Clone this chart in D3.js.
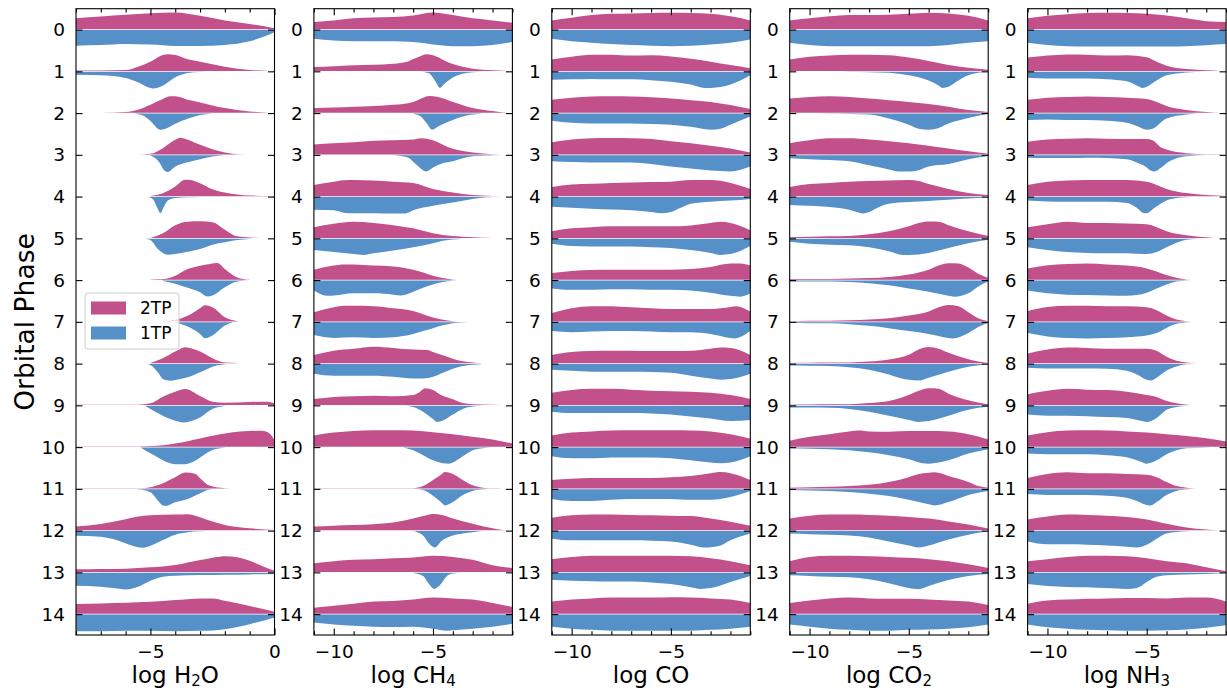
<!DOCTYPE html>
<html>
<head>
<meta charset="utf-8">
<script src="https://cdn.jsdelivr.net/npm/d3@7"></script>
<style>
  body { margin: 0; background: #fff; }
  text { font-family: "DejaVu Sans", sans-serif; fill: #000; }
</style>
</head>
<body>
<svg id="chart" width="1227" height="690"></svg>
<script>
// orbital phase bins (rows) and the x range / ticks of each retrieved species
const phases = [0, 1, 2, 3, 4, 5, 6, 7, 8, 9, 10, 11, 12, 13, 14];
const species = ["H2O", "CH4", "CO", "CO2", "NH3"];
const speciesLabels = [["log H", "2", "O"], ["log CH", "4", ""], ["log CO", "", ""], ["log CO", "2", ""], ["log NH", "3", ""]];
const xDomains = [[-8, 0], [-11, -1], [-11, -1], [-11, -1], [-11, -1]];
const majorTicks = [[-5, 0], [-10, -5], [-10, -5], [-10, -5], [-10, -5]];
const legendNames = ["2TP", "1TP"];

// half-violin outlines: [log abundance, width relative to the half's peak]
const h2o2TP = [
  [[-8,.66],[-7,.76],[-6,.86],[-5,.96],[-4,1],[-3,.8],[-2,.52],[-1,.32],[0,.06]],
  [[-8,.03],[-7,.03],[-6,.06],[-5.5,.26],[-5,.56],[-4.5,.96],[-4.3,1],[-4,.96],[-3.5,.7],[-3,.56],[-2,.26],[-1,.06],[-0.3,.01]],
  [[-7,0],[-6,.04],[-5.5,.18],[-5,.48],[-4.5,.82],[-4.2,.98],[-4,.98],[-3.5,.78],[-3,.62],[-2,.28],[-1,.08],[-0.3,.01]],
  [[-5.5,0],[-5,.04],[-4.5,.38],[-4,.88],[-3.8,1],[-3.5,.88],[-3,.58],[-2.5,.32],[-2,.12],[-1.5,.02],[-0.3,0]],
  [[-5,.02],[-4.5,.18],[-4,.58],[-3.6,.98],[-3.5,.98],[-3,.78],[-2.5,.42],[-2,.22],[-1.5,.1],[-1,.04],[0,.01]],
  [[-5,0],[-4.5,.29],[-4,.77],[-3.5,.98],[-3,1],[-2.5,.95],[-2,.5],[-1.5,.1],[-1,.03],[-0.3,0]],
  [[-5,.01],[-4.5,.04],[-4,.24],[-3.5,.64],[-3,.84],[-2.6,.94],[-2.3,1],[-2,.64],[-1.5,.14],[-1,.01]],
  [[-4.5,.04],[-4,.1],[-3.5,.34],[-3,.8],[-2.8,.98],[-2.5,.86],[-2,.26],[-1.5,.02]],
  [[-5,.02],[-4.5,.3],[-4,.7],[-3.6,.96],[-3,.7],[-2.5,.3],[-2,.04],[-1.5,.01]],
  [[-8,.01],[-5.5,.02],[-5,.1],[-4.5,.5],[-4,.8],[-3.6,.96],[-3,.54],[-2.5,.2],[-2,.14],[-1,.18],[-0.3,.2],[0,.1]],
  [[-8,.01],[-6,.01],[-5,.04],[-4,.2],[-3,.5],[-2.5,.66],[-2,.8],[-1,.94],[-0.5,.96],[-0.2,.8],[0,.4]],
  [[-8,.01],[-5.5,.01],[-5,.08],[-4.5,.32],[-4,.68],[-3.6,.96],[-3.2,.88],[-3,.62],[-2.6,.16],[-2,.02],[-1.5,0]],
  [[-8,.22],[-7,.38],[-6,.66],[-5.5,.82],[-5,.9],[-4,.94],[-3.5,.96],[-3,.78],[-2.5,.52],[-2,.32],[-1,.12],[0,.02]],
  [[-8,.16],[-7,.18],[-6,.2],[-5,.28],[-4,.42],[-3,.72],[-2.2,.92],[-2,.94],[-1.5,.88],[-1,.68],[-0.5,.36],[0,.08]],
  [[-8,.58],[-7,.62],[-6,.66],[-5,.72],[-4,.82],[-3,.92],[-2.5,.92],[-2,.78],[-1,.46],[0,.12]]
];
const h2o1TP = [
  [[-8,.94],[-7,.9],[-6,.84],[-5,.88],[-4,.96],[-3,.96],[-2,.9],[-1,.68],[0,.14]],
  [[-8,.18],[-7,.22],[-6,.38],[-5.5,.64],[-5,.98],[-4.9,1],[-4.5,.84],[-4,.34],[-3.5,.08],[-3,.02],[-2.8,0]],
  [[-5.7,0],[-5.3,.12],[-5,.46],[-4.6,.98],[-4.4,.92],[-4,.62],[-3.5,.32],[-3,.1],[-2.5,0]],
  [[-5,.02],[-4.7,.32],[-4.4,.96],[-4.3,1],[-4,.68],[-3.5,.42],[-3,.24],[-2.5,.08],[-2,0]],
  [[-5.1,0],[-4.9,.14],[-4.7,.72],[-4.6,.98],[-4.5,.72],[-4.3,.22],[-4,.06],[-3.5,.02],[-3,0]],
  [[-5.2,0],[-5,.08],[-4.7,.62],[-4.5,.86],[-4.3,.96],[-4,.92],[-3.5,.78],[-3,.62],[-2.5,.36],[-2,.22],[-1.5,.08],[-1,.02],[-0.5,0]],
  [[-4.5,.04],[-4,.2],[-3.5,.44],[-3,.7],[-2.7,.96],[-2.5,.9],[-2,.4],[-1.5,.06],[-1,0]],
  [[-4,.02],[-3.5,.26],[-3,.7],[-2.8,.96],[-2.5,.8],[-2,.2],[-1.7,.02]],
  [[-5.1,0],[-5,.06],[-4.7,.5],[-4.5,.9],[-4.2,1],[-4,.96],[-3.5,.8],[-3,.5],[-2.5,.16],[-2,.02]],
  [[-5.2,.02],[-5,.2],[-4.5,.6],[-4,.9],[-3.7,1],[-3,.7],[-2.5,.2],[-2,.02]],
  [[-5.4,0],[-5,.35],[-4.7,.6],[-4.3,.9],[-4,1],[-3.6,1],[-3.2,.8],[-3,.6],[-2.5,.15],[-2,.02]],
  [[-5.5,.02],[-5,.18],[-4.7,.68],[-4.5,.98],[-4.4,1],[-4,.78],[-3.5,.58],[-3,.24],[-2.7,.04],[-2.5,0]],
  [[-8,.28],[-7,.34],[-6.5,.48],[-6,.74],[-5.5,.98],[-5.3,1],[-5,.88],[-4.5,.54],[-4,.22],[-3.5,.08],[-3,.02],[-2.5,0]],
  [[-8,.78],[-7,.84],[-6.5,.92],[-6,1],[-5.5,.84],[-5,.48],[-4.5,.24],[-4,.18],[-3,.14],[-2,.12],[-1,.1],[0,.08]],
  [[-8,1],[-7,1],[-6,.98],[-5,.98],[-4,1],[-3,.98],[-2,.88],[-1,.58],[0,.18]]
];

const ch42TP = [
  [[-11,.44],[-10,.53],[-9,.65],[-8,.7],[-7,.73],[-6,.82],[-5,1],[-4,.85],[-3,.65],[-2,.53],[-1,.39]],
  [[-11,.24],[-10,.29],[-9,.34],[-8,.38],[-7,.44],[-6.3,.56],[-5.8,.8],[-5.3,1],[-4.8,.85],[-4.3,.55],[-4,.42],[-3.5,.25],[-3,.13],[-2,.04],[-1.3,0]],
  [[-11,.27],[-10,.31],[-9,.36],[-8,.41],[-7,.48],[-6,.65],[-5.5,.9],[-5.2,1],[-4.8,.95],[-4,.65],[-3,.29],[-2,.1],[-1.3,0]],
  [[-11,.6],[-10,.68],[-9,.73],[-8,.82],[-7,.85],[-6,.9],[-5.6,.97],[-5,.85],[-4.5,.58],[-4,.34],[-3,.12],[-2,.02],[-1,0]],
  [[-11,.68],[-10,.87],[-9.3,.97],[-9,.97],[-8,.94],[-7,.87],[-6,.8],[-5,.44],[-4,.22],[-3,.07],[-2,.02],[-1,0]],
  [[-11,.65],[-10,.85],[-9,.97],[-8,.9],[-7,.77],[-6,.58],[-5,.29],[-4,.12],[-3,.05],[-2.5,.01],[-2,0]],
  [[-11,.6],[-10,.85],[-9.5,.92],[-9,.92],[-8,.85],[-7,.8],[-6,.6],[-5.5,.44],[-5,.24],[-4.5,.1],[-4,.02],[-3.5,0]],
  [[-11,.56],[-10,.85],[-9.5,.94],[-9,.94],[-8,.92],[-7,.8],[-6,.63],[-5.5,.44],[-5,.24],[-4.5,.1],[-4,.02],[-3.5,0]],
  [[-11,.5],[-10,.75],[-9,.87],[-8,.99],[-7,.92],[-6,.82],[-5.3,.8],[-5,.68],[-4.5,.48],[-4,.27],[-3.5,.12],[-3,.05],[-2.5,0]],
  [[-11,.36],[-10,.48],[-9,.53],[-8,.56],[-7,.53],[-6,.6],[-5.7,.75],[-5.4,1],[-5,.9],[-4.6,.6],[-4,.35],[-3.5,.12],[-3,.05],[-2,.02],[-1,0]],
  [[-11,.68],[-10,.85],[-9,.94],[-8,.99],[-7,.99],[-6,.97],[-5,.87],[-4,.75],[-3,.6],[-2,.44],[-1,.19]],
  [[-11,.02],[-6,.02],[-5.5,.15],[-5,.51],[-4.6,.82],[-4.4,.99],[-4,.87],[-3.5,.51],[-3,.19],[-2.5,.05],[-2,.01],[-1.5,0]],
  [[-11,.22],[-10,.27],[-9,.31],[-8,.36],[-7,.46],[-6,.7],[-5.5,.85],[-5,.97],[-4.5,.9],[-4,.7],[-3,.39],[-2,.12],[-1.5,.02],[-1.3,0]],
  [[-11,.53],[-10,.65],[-9,.73],[-8,.77],[-7,.82],[-6,.87],[-5,.97],[-4,.9],[-3,.73],[-2,.41],[-1,.24]],
  [[-11,.36],[-10,.48],[-9,.6],[-8,.73],[-7,.77],[-6,.85],[-5,.97],[-4,.92],[-3,.85],[-2,.65],[-1,.41]]
];
const ch41TP = [
  [[-11,.53],[-10,.63],[-9,.68],[-8,.68],[-7,.68],[-6,.73],[-5,.87],[-4,.97],[-3,.97],[-2,.9],[-1,.73]],
  [[-5.6,0],[-5.2,.1],[-4.9,.55],[-4.65,.97],[-4.4,.7],[-4,.35],[-3.5,.12],[-3,.03],[-2.5,0]],
  [[-6,.02],[-5.6,.2],[-5.3,.62],[-5.05,.97],[-4.7,.75],[-4,.39],[-3.5,.19],[-3,.07],[-2.5,0]],
  [[-7,0],[-6.3,.12],[-5.8,.6],[-5.35,.97],[-5,.73],[-4.5,.48],[-4,.36],[-3.5,.19],[-3,.07],[-2,.02],[-1,0]],
  [[-11,.77],[-10,.8],[-9.5,.94],[-9,.97],[-8,.97],[-7,.99],[-6.4,.99],[-6,.8],[-5,.53],[-4,.34],[-3,.12],[-2.3,.02],[-2,0]],
  [[-11,.68],[-10,.8],[-9,.92],[-8.5,.97],[-8,.87],[-7,.7],[-6,.51],[-5,.27],[-4.5,.12],[-4,.05],[-3.5,0]],
  [[-11,.6],[-10.3,.92],[-10,.9],[-9,.77],[-8,.77],[-7,.85],[-6.6,.9],[-6,.68],[-5.5,.44],[-5,.24],[-4.5,.1],[-4,.02],[-3.5,0]],
  [[-11,.77],[-10,.94],[-9,.9],[-8,.94],[-7,.9],[-6,.7],[-5.5,.53],[-5,.36],[-4.5,.19],[-4,.07],[-3.5,.02],[-3,0]],
  [[-11,.58],[-10,.7],[-9,.7],[-8,.7],[-7,.77],[-6,.87],[-5.5,.87],[-5,.77],[-4.5,.53],[-4,.29],[-3.5,.12],[-3,.05],[-2.5,0]],
  [[-6.5,0],[-6,.07],[-5.5,.36],[-5,.8],[-4.8,.97],[-4.5,.88],[-4,.53],[-3.5,.19],[-3,.05],[-2.5,0]],
  [[-6.5,0],[-6,.17],[-5.5,.46],[-5,.77],[-4.5,.94],[-4.2,.97],[-4,.9],[-3.5,.53],[-3,.17],[-2.5,.05],[-2,0]],
  [[-5.8,0],[-5.5,.05],[-5,.39],[-4.6,.77],[-4.4,.97],[-4,.77],[-3.5,.34],[-3,.1],[-2.5,.02],[-2,0]],
  [[-6,0],[-5.5,.27],[-5.2,.75],[-4.9,.99],[-4.6,.63],[-4,.27],[-3.5,.15],[-3,.07],[-2.5,0]],
  [[-6,.02],[-5.5,.19],[-5.2,.68],[-4.95,.97],[-4.6,.68],[-4.3,.2],[-4,.05],[-3.5,0]],
  [[-11,.48],[-10,.6],[-9,.68],[-8,.73],[-7,.75],[-6,.73],[-5,.85],[-4.3,.97],[-4,.94],[-3,.85],[-2,.73],[-1,.56]]
];

const co2TP = [
  [[-11,.53],[-10,.68],[-9,.85],[-8,.92],[-7,.94],[-6,.97],[-5,.99],[-4,.97],[-3,.92],[-2,.77],[-1,.53]],
  [[-11,.68],[-10,.85],[-9,.97],[-8,.97],[-7,.92],[-6,.94],[-5,.87],[-4,.73],[-3,.56],[-2,.36],[-1,.17]],
  [[-11,.77],[-10,.9],[-9,.97],[-8,.99],[-7,.97],[-6,.92],[-5,.85],[-4,.75],[-3,.65],[-2,.46],[-1,.22]],
  [[-11,.73],[-10,.9],[-9,.97],[-8,.99],[-7,.97],[-6,.92],[-5,.8],[-4,.68],[-3,.53],[-2,.36],[-1,.12]],
  [[-11,.56],[-10,.7],[-9,.75],[-8,.8],[-7,.82],[-6,.85],[-5,.87],[-4,.97],[-3,.97],[-2,.8],[-1,.44]],
  [[-11,.41],[-10,.58],[-9,.65],[-8,.7],[-7,.7],[-6,.7],[-5,.7],[-4,.75],[-3,.9],[-2.5,.97],[-2,.9],[-1,.46]],
  [[-11,.41],[-10,.53],[-9,.58],[-8,.6],[-7,.6],[-6,.6],[-5,.6],[-4,.65],[-3,.77],[-2,.97],[-1.5,.97],[-1,.85]],
  [[-11,.51],[-10,.8],[-9,.92],[-8,.92],[-7,.85],[-6,.8],[-5,.75],[-4,.75],[-3,.75],[-2,.87],[-1.7,.92],[-1,.6]],
  [[-11,.5],[-10,.68],[-9,.73],[-8,.75],[-7,.75],[-6,.73],[-5,.73],[-4,.75],[-3,.87],[-2.5,.94],[-2,.92],[-1,.5]],
  [[-11,.73],[-10,.9],[-9,.97],[-8,.97],[-7,.92],[-6,.85],[-5,.82],[-4,.8],[-3,.73],[-2,.6],[-1,.36]],
  [[-11,.68],[-10,.85],[-9,.92],[-8,.97],[-7,.99],[-6,.99],[-5,.99],[-4,.97],[-3,.92],[-2,.75],[-1,.48]],
  [[-11,.51],[-10,.58],[-9,.63],[-8,.63],[-7,.63],[-6,.63],[-5,.68],[-4,.75],[-3,.92],[-2.5,.99],[-2,.92],[-1,.51]],
  [[-11,.75],[-10,.9],[-9,.94],[-8,.94],[-7,.92],[-6,.9],[-5,.87],[-4,.85],[-3,.7],[-2,.51],[-1,.27]],
  [[-11,.77],[-10,.9],[-9,.97],[-8,.97],[-7,.97],[-6,.97],[-5,.97],[-4,.94],[-3,.82],[-2,.65],[-1,.41]],
  [[-11,.73],[-10,.85],[-9,.92],[-8,.97],[-7,.97],[-6,.97],[-5,.99],[-4,.97],[-3,.92],[-2,.85],[-1,.65]]
];
const co1TP = [
  [[-11,.53],[-10,.68],[-9,.77],[-8,.85],[-7,.9],[-6,.94],[-5,.97],[-4,.94],[-3,.87],[-2,.77],[-1,.58]],
  [[-11,.48],[-10,.46],[-9,.44],[-8,.46],[-7,.46],[-6,.51],[-5,.6],[-4,.77],[-3.3,.97],[-3,.97],[-2,.77],[-1,.22]],
  [[-11,.44],[-10,.56],[-9,.6],[-8,.6],[-7,.6],[-6,.63],[-5,.68],[-4,.8],[-3,.97],[-2.5,.92],[-2,.68],[-1,.19]],
  [[-11,.36],[-10,.41],[-9,.44],[-8,.44],[-7,.44],[-6,.53],[-5,.68],[-4,.8],[-3,.92],[-2,.97],[-1,.68]],
  [[-11,.58],[-10,.65],[-9,.7],[-8,.75],[-7,.8],[-6,.9],[-5.5,.97],[-5,.9],[-4.5,.65],[-4,.41],[-3,.29],[-2,.22],[-1,.12]],
  [[-11,.31],[-10,.44],[-9,.46],[-8,.46],[-7,.46],[-6,.51],[-5,.56],[-4,.68],[-3,.85],[-2.5,.97],[-2,.92],[-1,.44]],
  [[-11,.48],[-10,.56],[-9,.56],[-8,.53],[-7,.53],[-6,.56],[-5,.56],[-4,.6],[-3,.73],[-2,.92],[-1.5,.97],[-1,.77]],
  [[-11,.53],[-10,.6],[-9,.56],[-8,.53],[-7,.53],[-6,.56],[-5,.6],[-4,.6],[-3,.7],[-2,.94],[-1.8,.97],[-1,.53]],
  [[-11,.34],[-10,.41],[-9,.46],[-8,.46],[-7,.46],[-6,.48],[-5,.53],[-4,.7],[-3,.87],[-2.5,.94],[-2,.9],[-1,.58]],
  [[-11,.36],[-10,.44],[-9,.44],[-8,.44],[-7,.44],[-6,.46],[-5,.53],[-4,.65],[-3,.77],[-2,.92],[-1,.85]],
  [[-11,.53],[-10,.65],[-9,.65],[-8,.6],[-7,.6],[-6,.6],[-5,.65],[-4,.77],[-3,.9],[-2.5,.94],[-2,.9],[-1,.53]],
  [[-11,.58],[-10,.7],[-9,.7],[-8,.63],[-7,.58],[-6,.58],[-5,.58],[-4,.63],[-3,.63],[-2,.46],[-1,.1]],
  [[-11,.46],[-10,.56],[-9,.56],[-8,.56],[-7,.56],[-6,.58],[-5,.63],[-4,.82],[-3.3,.99],[-2.5,.87],[-2,.56],[-1,.15]],
  [[-11,.44],[-10,.48],[-9,.51],[-8,.53],[-7,.53],[-6,.58],[-5,.68],[-4,.87],[-3.5,.97],[-3,.92],[-2,.56],[-1,.19]],
  [[-11,.73],[-10,.85],[-9,.92],[-8,.97],[-7,.97],[-6,.97],[-5,.97],[-4,.97],[-3,.92],[-2,.85],[-1,.73]]
];

const co22TP = [
  [[-11,.53],[-10,.65],[-9,.77],[-8,.85],[-7,.85],[-6,.87],[-5,.92],[-4,.99],[-3,.94],[-2,.8],[-1,.53]],
  [[-11,.68],[-10,.85],[-9,.92],[-8,.97],[-7,.97],[-6,.94],[-5,.8],[-4,.6],[-3,.36],[-2,.19],[-1,.07]],
  [[-11,.85],[-10,.94],[-9,.99],[-8,.94],[-7,.85],[-6,.75],[-5,.65],[-4,.53],[-3,.36],[-2,.17],[-1,.05]],
  [[-11,.68],[-10,.85],[-9,.97],[-8,.97],[-7,.9],[-6,.8],[-5,.68],[-4,.53],[-3,.36],[-2,.19],[-1,.05]],
  [[-11,.56],[-10,.73],[-9,.8],[-8,.87],[-7,.92],[-6,.94],[-5,.97],[-4.5,.92],[-4,.73],[-3,.44],[-2,.19],[-1,.07]],
  [[-11,.05],[-10,.07],[-9,.1],[-8,.12],[-7,.22],[-6,.41],[-5,.7],[-4.5,.9],[-4,.99],[-3.5,.97],[-3,.77],[-2,.41],[-1,.12]],
  [[-11,.05],[-10,.05],[-9,.05],[-8,.07],[-7,.1],[-6,.17],[-5,.31],[-4,.6],[-3.5,.85],[-3,.99],[-2.5,.97],[-2,.73],[-1.5,.36],[-1,.1]],
  [[-11,.02],[-10,.04],[-9,.05],[-8,.07],[-7,.12],[-6,.19],[-5,.36],[-4,.6],[-3.5,.85],[-3,.99],[-2.5,.92],[-2,.56],[-1.5,.19],[-1,.02]],
  [[-11,.02],[-10,.03],[-9,.04],[-8,.05],[-7,.1],[-6,.22],[-5,.51],[-4.5,.82],[-4,.97],[-3.5,.87],[-3,.63],[-2,.24],[-1.5,.1],[-1,.02]],
  [[-11,.02],[-10,.03],[-9,.04],[-8,.05],[-7,.12],[-6,.24],[-5,.6],[-4.5,.85],[-4,1],[-3.5,.97],[-3,.68],[-2,.29],[-1.5,.15],[-1,.05]],
  [[-11,.36],[-10,.6],[-9,.75],[-8,.92],[-7.5,.97],[-7,.92],[-6,.9],[-5,.94],[-4,.94],[-3,.92],[-2,.75],[-1,.44]],
  [[-11,.05],[-10,.07],[-9,.1],[-8,.15],[-7,.22],[-6,.39],[-5,.68],[-4.5,.87],[-4,.94],[-3.7,.97],[-3,.75],[-2,.39],[-1.5,.15],[-1,.05]],
  [[-11,.7],[-10,.87],[-9,.94],[-8,.94],[-7,.92],[-6,.87],[-5,.8],[-4,.7],[-3,.53],[-2,.34],[-1,.1]],
  [[-11,.65],[-10,.9],[-9,.97],[-8,.97],[-7,.94],[-6,.9],[-5,.85],[-4,.77],[-3,.65],[-2,.46],[-1,.24]],
  [[-11,.65],[-10,.8],[-9,.92],[-8,.97],[-7,.92],[-6,.9],[-5,.9],[-4,.85],[-3,.8],[-2,.73],[-1,.53]]
];
const co21TP = [
  [[-11,.77],[-10,.9],[-9,.97],[-8,.97],[-7,.97],[-6,.97],[-5,.97],[-4,.97],[-3,.9],[-2,.77],[-1,.68]],
  [[-11,.01],[-10,.01],[-9,.01],[-8,.02],[-7,.03],[-6,.07],[-5,.22],[-4,.53],[-3.5,.82],[-3.3,.97],[-3,.9],[-2.5,.53],[-2,.22],[-1.5,.07],[-1,.01]],
  [[-11,.01],[-10,.01],[-9,.02],[-8,.03],[-7,.07],[-6,.31],[-5,.68],[-4.5,.92],[-4,.97],[-3.5,.87],[-3,.6],[-2,.27],[-1,.02]],
  [[-11,.19],[-10,.24],[-9,.29],[-8,.36],[-7,.6],[-6,.85],[-5.5,.97],[-5,.97],[-4.5,.9],[-4,.68],[-3,.53],[-2,.24],[-1,.05]],
  [[-11,.48],[-10,.53],[-9,.6],[-8,.77],[-7.5,.94],[-7.3,.99],[-7,.9],[-6.5,.6],[-6,.41],[-5,.31],[-4,.24],[-3,.17],[-2,.1],[-1,.02]],
  [[-11,.19],[-10,.31],[-9,.36],[-8,.39],[-7,.51],[-6,.75],[-5.3,.97],[-5,.97],[-4,.85],[-3,.56],[-2,.27],[-1,.07]],
  [[-11,.07],[-10,.07],[-9,.07],[-8,.1],[-7,.17],[-6,.29],[-5,.48],[-4,.68],[-3,.92],[-2.7,.97],[-2,.77],[-1.5,.36],[-1,.07]],
  [[-11,.05],[-10,.06],[-9,.07],[-8,.12],[-7,.22],[-6,.36],[-5,.53],[-4,.7],[-3,.94],[-2.8,.97],[-2,.65],[-1.5,.29],[-1,.05]],
  [[-11,.1],[-10,.11],[-9,.12],[-8,.19],[-7,.34],[-6,.63],[-5.5,.82],[-5,.94],[-4.5,.99],[-4,.82],[-3,.46],[-2,.17],[-1,.02]],
  [[-11,.1],[-10,.11],[-9,.12],[-8,.19],[-7,.36],[-6,.6],[-5,.85],[-4.5,.97],[-4,.92],[-3,.6],[-2,.24],[-1,.05]],
  [[-11,.05],[-10,.07],[-9,.1],[-8,.17],[-7,.29],[-6,.46],[-5,.7],[-4.3,.94],[-4,.97],[-3,.77],[-2,.36],[-1,.1]],
  [[-11,.05],[-10,.07],[-9,.1],[-8,.17],[-7,.27],[-6,.41],[-5,.63],[-4,.9],[-3.7,.97],[-3,.77],[-2,.34],[-1,.1]],
  [[-11,.15],[-10,.19],[-9,.22],[-8,.27],[-7,.39],[-6,.63],[-5,.87],[-4.5,.99],[-4,.87],[-3,.51],[-2,.22],[-1,.02]],
  [[-11,.15],[-10,.19],[-9,.24],[-8,.27],[-7,.39],[-6,.63],[-5,.92],[-4.5,.99],[-4,.8],[-3,.44],[-2,.19],[-1,.07]],
  [[-11,.6],[-10,.73],[-9,.85],[-8,.92],[-7,.97],[-6,.97],[-5,.92],[-4,.9],[-3,.85],[-2,.77],[-1,.6]]
];

const nh32TP = [
  [[-11,.65],[-10,.8],[-9,.9],[-8,.97],[-7,.99],[-6,.97],[-5,.92],[-4,.82],[-3,.65],[-2,.48],[-1,.44]],
  [[-11,.8],[-10,.92],[-9,.99],[-8,.97],[-7,.92],[-6,.94],[-5,.82],[-4.5,.56],[-4,.32],[-3,.12],[-2,.04],[-1.3,0]],
  [[-11,.77],[-10,.9],[-9,.94],[-8,.97],[-7,.94],[-6,.9],[-5,.82],[-4.5,.65],[-4,.41],[-3,.17],[-2,.05],[-1.3,0]],
  [[-11,.77],[-10,.9],[-9,.94],[-8,.97],[-7,.94],[-6,.92],[-5,.92],[-4.7,.85],[-4.3,.44],[-4,.3],[-3,.08],[-2,.01],[-1,0]],
  [[-11,.68],[-10,.87],[-9,.94],[-8,.97],[-7,.97],[-6,.97],[-5,.87],[-4.5,.68],[-4,.44],[-3,.19],[-2,.07],[-1,.02]],
  [[-11,.65],[-10,.82],[-9,.97],[-8,.9],[-7,.9],[-6,.87],[-5,.82],[-4.5,.65],[-4,.41],[-3,.17],[-2,.05],[-1.5,0]],
  [[-11,.68],[-10,.87],[-9,.94],[-8,.97],[-7,.92],[-6,.85],[-5,.68],[-4,.29],[-3.5,.12],[-3,.02],[-2.5,0]],
  [[-11,.63],[-10,.87],[-9,.94],[-8,.94],[-7,.92],[-6,.92],[-5,.85],[-4.5,.68],[-4,.36],[-3.5,.12],[-3,.02],[-2.5,0]],
  [[-11,.58],[-10,.82],[-9,.94],[-8,.92],[-7,.87],[-6,.87],[-5,.87],[-4.5,.75],[-4,.39],[-3.5,.15],[-3,.05],[-2.5,0]],
  [[-11,.65],[-10,.85],[-9,.97],[-8,.92],[-7,.9],[-6,.8],[-5,.6],[-4.5,.48],[-4,.24],[-3.5,.1],[-3,.02],[-2.5,0]],
  [[-11,.68],[-10,.87],[-9,.97],[-8,.99],[-7,.97],[-6,.92],[-5,.85],[-4,.75],[-3,.65],[-2,.51],[-1,.31]],
  [[-11,.63],[-10,.87],[-9,.97],[-8,.92],[-7,.92],[-6,.87],[-5,.82],[-4.5,.68],[-4,.39],[-3.5,.15],[-3,.05],[-2.5,0]],
  [[-11,.65],[-10,.82],[-9,.94],[-8,.92],[-7,.87],[-6,.8],[-5,.65],[-4,.39],[-3,.17],[-2,.05],[-1.3,0]],
  [[-11,.65],[-10,.77],[-9,.9],[-8,.97],[-7,.97],[-6,.94],[-5,.82],[-4,.65],[-3,.53],[-2,.29],[-1,.05]],
  [[-11,.6],[-10,.8],[-9,.85],[-8,.9],[-7,.92],[-6,.94],[-5,.94],[-4,.92],[-3,.97],[-2,.97],[-1,.73]]
];
const nh31TP = [
  [[-11,.77],[-10,.9],[-9,.97],[-8,.99],[-7,.99],[-6,.99],[-5,.99],[-4,.99],[-3,.97],[-2,.92],[-1,.85]],
  [[-11,.36],[-10,.41],[-9,.41],[-8,.41],[-7,.46],[-6,.58],[-5.5,.82],[-5.2,.97],[-5,.9],[-4.5,.53],[-4,.22],[-3,.05],[-2,0]],
  [[-11,.39],[-10,.36],[-9,.39],[-8,.39],[-7,.44],[-6,.56],[-5.5,.75],[-5,.97],[-4.7,.92],[-4.3,.56],[-4,.31],[-3,.07],[-2.5,0]],
  [[-11,.15],[-10,.17],[-9,.17],[-8,.15],[-7,.17],[-6,.24],[-5.5,.44],[-5,.73],[-4.8,.92],[-4.6,.97],[-4.3,.77],[-4,.48],[-3.5,.19],[-3,.07],[-2,0]],
  [[-11,.22],[-10,.27],[-9,.29],[-8,.29],[-7,.29],[-6,.36],[-5.5,.65],[-5.2,.94],[-5,.97],[-4.6,.65],[-4,.22],[-3.5,.07],[-3,.02],[-2.5,0]],
  [[-11,.51],[-10,.68],[-9,.8],[-8,.85],[-7,.87],[-6,.87],[-5,.92],[-4.5,.8],[-4,.51],[-3.5,.24],[-3,.07],[-2.5,.02],[-2,0]],
  [[-11,.6],[-10,.77],[-9,.85],[-8,.87],[-7,.9],[-6,.92],[-5.5,.87],[-5,.73],[-4.5,.48],[-4,.24],[-3.5,.07],[-3,.02],[-2.5,0]],
  [[-11,.65],[-10,.85],[-9,.94],[-8,.97],[-7,.94],[-6,.9],[-5,.8],[-4.5,.65],[-4,.34],[-3.5,.1],[-3,.02],[-2.5,0]],
  [[-11,.22],[-10,.27],[-9,.27],[-8,.27],[-7,.29],[-6,.41],[-5.5,.63],[-5,.94],[-4.8,.99],[-4.5,.82],[-4,.39],[-3.5,.15],[-3,.02],[-2.5,0]],
  [[-11,.53],[-10,.6],[-9,.6],[-8,.63],[-7,.68],[-6,.73],[-5.3,.9],[-5,.97],[-4.5,.73],[-4,.24],[-3.5,.07],[-3,.02],[-2.5,0]],
  [[-11,.36],[-10,.41],[-9,.41],[-8,.41],[-7,.46],[-6,.58],[-5.3,.85],[-5,.97],[-4.5,.77],[-4,.41],[-3.5,.17],[-3,.05],[-2,.01],[-1.5,0]],
  [[-11,.29],[-10,.34],[-9,.34],[-8,.34],[-7,.39],[-6,.51],[-5.5,.7],[-5,.94],[-4.8,.97],[-4.5,.77],[-4,.34],[-3.5,.1],[-3,.02],[-2.5,0]],
  [[-11,.63],[-10,.8],[-9,.8],[-8,.82],[-7,.87],[-6,.94],[-5.5,.99],[-5,.82],[-4.5,.46],[-4,.15],[-3,.02],[-2.5,0]],
  [[-11,.68],[-10,.8],[-9,.85],[-8,.87],[-7,.92],[-6,.97],[-5.5,.92],[-5,.56],[-4.5,.24],[-4,.15],[-3,.1],[-2,.07],[-1,.02]],
  [[-11,.6],[-10,.77],[-9,.85],[-8,.92],[-7,.94],[-6,.97],[-5,.97],[-4,.94],[-3,.9],[-2,.8],[-1,.65]]
];

const topSeries = [h2o2TP, ch42TP, co2TP, co22TP, nh32TP];
const bottomSeries = [h2o1TP, ch41TP, co1TP, co21TP, nh31TP];

const colors = { top: "#c2508b", bottom: "#5690c8" };

const svg = d3.select("#chart");
svg.append("rect").attr("width", 1227).attr("height", 690).attr("fill", "#fff");

// layout of the five panels
const panelLeft = 76, panelStep = 237.9, panelW = 198.5;
const panelTop = 8.7, panelH = 626.3;

const y = d3.scaleLinear().domain([-0.5, 14.5]).range([0, panelH]);
const halfMax = 0.4 * (y(1) - y(0));
const gap = 0.35;

species.forEach((sp, i) => {
  const g = svg.append("g")
    .attr("transform", "translate(" + (panelLeft + i * panelStep) + "," + panelTop + ")");

  const x = d3.scaleLinear().domain(xDomains[i]).range([0, panelW]);

  g.append("clipPath").attr("id", "clip" + i)
    .append("rect").attr("width", panelW).attr("height", panelH);

  const violins = g.append("g").attr("clip-path", "url(#clip" + i + ")");

  phases.forEach(p => {
    const up = d3.area()
      .x(d => x(d[0]))
      .y0(y(p) - gap)
      .y1(d => y(p) - gap - d[1] * halfMax)
      .curve(d3.curveMonotoneX);
    const down = d3.area()
      .x(d => x(d[0]))
      .y0(y(p) + gap)
      .y1(d => y(p) + gap + d[1] * halfMax)
      .curve(d3.curveMonotoneX);

    violins.append("path")
      .attr("d", up(topSeries[i][p]))
      .attr("fill", colors.top);
    violins.append("path")
      .attr("d", down(bottomSeries[i][p]))
      .attr("fill", colors.bottom);
  });

  // minor ticks at every integer, major ones every 5
  const lo = xDomains[i][0], hi = xDomains[i][1];
  const minor = d3.range(Math.ceil(lo), hi + 0.001, 1).filter(v => majorTicks[i].indexOf(v) < 0);

  const styleAxis = sel => {
    sel.select(".domain").remove();
    sel.selectAll("line").attr("stroke", "#000").attr("stroke-width", 1.1);
    sel.selectAll("text").attr("font-size", 18.5).attr("font-family", "DejaVu Sans");
  };

  g.append("g").attr("transform", "translate(0," + panelH + ")")
    .call(d3.axisBottom(x).tickValues(majorTicks[i]).tickSize(-6.5).tickSizeOuter(0).tickPadding(9.5)
      .tickFormat(d3.format("d")))
    .call(styleAxis);
  g.append("g").attr("transform", "translate(0," + panelH + ")")
    .call(d3.axisBottom(x).tickValues(minor).tickSize(-3.8).tickSizeOuter(0).tickFormat(""))
    .call(styleAxis);
  g.append("g")
    .call(d3.axisTop(x).tickValues(majorTicks[i]).tickSize(-6.5).tickSizeOuter(0).tickFormat(""))
    .call(styleAxis);
  g.append("g")
    .call(d3.axisTop(x).tickValues(minor).tickSize(-3.8).tickSizeOuter(0).tickFormat(""))
    .call(styleAxis);

  g.append("g")
    .call(d3.axisLeft(y).tickValues(phases).tickSize(-6.5).tickSizeOuter(0).tickPadding(11))
    .call(styleAxis);
  g.append("g").attr("transform", "translate(" + panelW + ",0)")
    .call(d3.axisRight(y).tickValues(phases).tickSize(-6.5).tickSizeOuter(0).tickFormat(""))
    .call(styleAxis);

  g.append("rect")
    .attr("width", panelW).attr("height", panelH)
    .attr("fill", "none").attr("stroke", "#000").attr("stroke-width", 1.1);

  // x label with subscript
  const lab = speciesLabels[i];
  const t = g.append("text")
    .attr("x", panelW / 2).attr("y", 683.5 - panelTop)
    .attr("text-anchor", "middle")
    .attr("font-size", 23);
  t.append("tspan").text(lab[0]);
  if (lab[1]) {
    t.append("tspan").attr("font-size", 15).attr("dy", 2.5).text(lab[1]);
    if (lab[2]) t.append("tspan").attr("dy", -2.5).text(lab[2]);
  }
});

// y axis label
svg.append("text")
  .attr("transform", "translate(33.5,322) rotate(-90)")
  .attr("text-anchor", "middle")
  .attr("font-size", 26.5)
  .text("Orbital Phase");

// legend in the first panel
const legend = svg.append("g").attr("transform", "translate(85,293)");
legend.append("rect")
  .attr("width", 94).attr("height", 56).attr("rx", 3)
  .attr("fill", "#fff").attr("fill-opacity", 0.8)
  .attr("stroke", "#cccccc").attr("stroke-width", 1);
legendNames.forEach((name, k) => {
  legend.append("rect")
    .attr("x", 6).attr("y", 8.5 + k * 25)
    .attr("width", 35).attr("height", 13)
    .attr("fill", k === 0 ? colors.top : colors.bottom);
  legend.append("text")
    .attr("x", 55).attr("y", 15 + k * 25)
    .attr("dy", "0.35em")
    .attr("font-size", 17)
    .text(name);
});
</script>
</body>
</html>
